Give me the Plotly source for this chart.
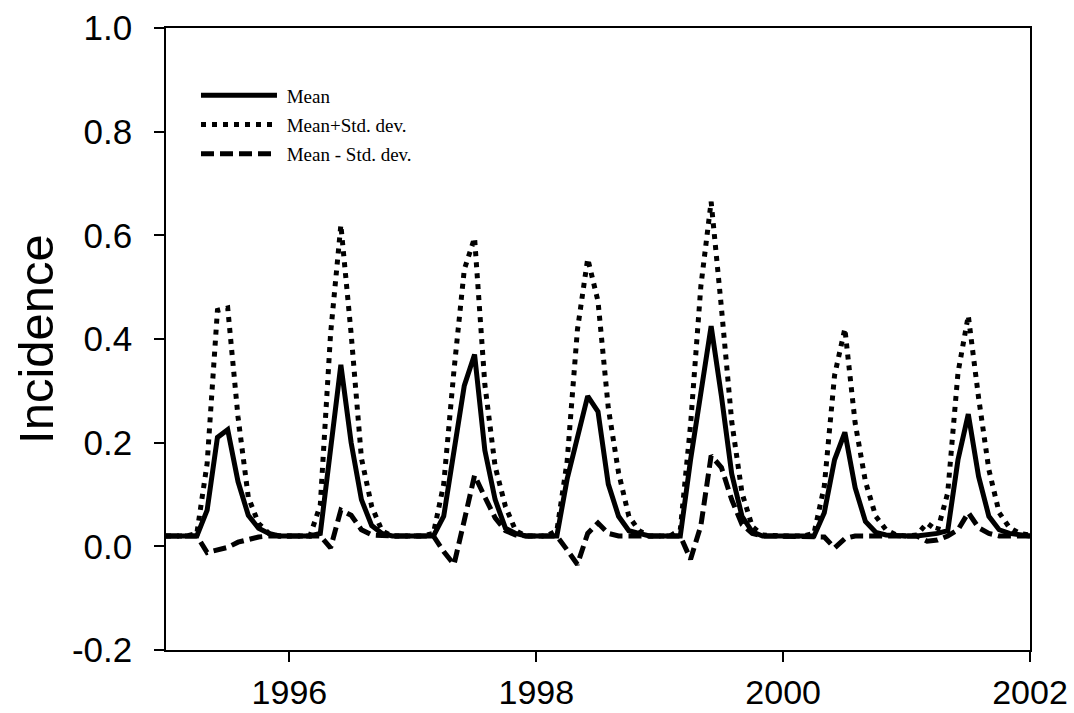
import plotly.graph_objects as go

# Monthly time axis (decimal years), Jan 1995 .. Jan 2002
months = [1995 + i / 12 for i in range(85)]

mean = [
    0.02, 0.02, 0.02, 0.02, 0.07, 0.21, 0.225, 0.125, 0.06, 0.035, 0.025, 0.02,   # 1995
    0.02, 0.02, 0.02, 0.025, 0.185, 0.35, 0.2, 0.09, 0.04, 0.025, 0.02, 0.02,     # 1996
    0.02, 0.02, 0.02, 0.058, 0.19, 0.31, 0.37, 0.185, 0.09, 0.035, 0.025, 0.02,   # 1997
    0.02, 0.02, 0.02, 0.13, 0.21, 0.29, 0.26, 0.12, 0.058, 0.03, 0.025, 0.02,     # 1998
    0.02, 0.02, 0.02, 0.167, 0.296, 0.425, 0.29, 0.14, 0.058, 0.028, 0.02, 0.02,  # 1999
    0.02, 0.02, 0.02, 0.02, 0.065, 0.167, 0.22, 0.113, 0.048, 0.027, 0.022, 0.02, # 2000
    0.02, 0.02, 0.022, 0.025, 0.03, 0.167, 0.255, 0.135, 0.058, 0.032, 0.025, 0.022, # 2001
    0.02,
]

mean_plus_sd = [
    0.02, 0.02, 0.02, 0.025, 0.16, 0.455, 0.46, 0.25, 0.095, 0.044, 0.025, 0.02,
    0.02, 0.02, 0.02, 0.08, 0.41, 0.62, 0.41, 0.17, 0.077, 0.03, 0.02, 0.02,
    0.02, 0.02, 0.025, 0.12, 0.34, 0.534, 0.595, 0.312, 0.154, 0.077, 0.03, 0.02,
    0.02, 0.02, 0.03, 0.164, 0.418, 0.555, 0.473, 0.267, 0.142, 0.058, 0.03, 0.02,
    0.02, 0.02, 0.032, 0.235, 0.502, 0.665, 0.46, 0.241, 0.103, 0.038, 0.022, 0.02,
    0.02, 0.02, 0.02, 0.025, 0.116, 0.33, 0.42, 0.238, 0.125, 0.058, 0.032, 0.022,
    0.02, 0.022, 0.045, 0.03, 0.103, 0.335, 0.445, 0.287, 0.148, 0.065, 0.036, 0.025,
    0.022,
]

mean_minus_sd = [
    0.02, 0.02, 0.02, 0.02, -0.012, -0.008, -0.002, 0.008, 0.013, 0.018, 0.02, 0.02,
    0.02, 0.02, 0.02, 0.02, -0.003, 0.07, 0.06, 0.032, 0.022, 0.02, 0.02, 0.02,
    0.02, 0.02, 0.02, -0.01, -0.035, 0.05, 0.137, 0.095, 0.055, 0.03, 0.022, 0.02,
    0.02, 0.02, 0.02, -0.007, -0.035, 0.025, 0.045, 0.025, 0.02, 0.02, 0.02, 0.02,
    0.02, 0.02, 0.02, -0.025, 0.04, 0.175, 0.152, 0.09, 0.042, 0.025, 0.02, 0.02,
    0.02, 0.02, 0.02, 0.02, 0.018, -0.003, 0.015, 0.02, 0.02, 0.02, 0.02, 0.02,
    0.02, 0.02, 0.01, 0.012, 0.02, 0.032, 0.065, 0.036, 0.025, 0.02, 0.02, 0.02,
    0.02,
]

series_names = ["Mean", "Mean+Std. dev.", "Mean - Std. dev."]

x_tickvals = [1996, 1998, 2000, 2002]
x_ticktext = ["1996", "1998", "2000", "2002"]
y_tickvals = [-0.2, 0.0, 0.2, 0.4, 0.6, 0.8, 1.0]
y_ticktext = ["-0.2", "0.0", "0.2", "0.4", "0.6", "0.8", "1.0"]

NB = "\u00a0"
fig = go.Figure()
fig.add_trace(go.Scatter(x=months, y=mean, mode="lines", name=NB + series_names[0],
                         legendgroup="g1",
                         line=dict(color="black", width=5)))
fig.add_trace(go.Scatter(x=months, y=mean_plus_sd, mode="lines", name=NB + series_names[1],
                         legendgroup="g2",
                         line=dict(color="black", width=5, dash="5px,6px")))
fig.add_trace(go.Scatter(x=months, y=mean_minus_sd, mode="lines", name=NB + series_names[2],
                         legendgroup="g3",
                         line=dict(color="black", width=5, dash="13px,6px")))

axis_common = dict(
    showline=True, linecolor="black", linewidth=1.5, mirror=True,
    ticks="outside", ticklen=10, tickwidth=1.5, tickcolor="black",
    showgrid=False, zeroline=False, automargin=False,
)
tick_font = dict(family="Liberation Sans, Arial, sans-serif", size=34, color="black")

fig.update_layout(
    width=1074, height=713,
    margin=dict(l=166, r=44, t=28, b=63, autoexpand=False),
    paper_bgcolor="white", plot_bgcolor="white",
    showlegend=True,
    legend=dict(
        x=0.0347, y=0.922, xanchor="left", yanchor="top",
        bgcolor="rgba(0,0,0,0)", borderwidth=0,
        font=dict(family="Liberation Serif, Times New Roman, serif", size=19, color="black"),
        itemwidth=76, tracegroupgap=1.5, traceorder="grouped",
    ),
    xaxis=dict(range=[1995, 2002], tickvals=x_tickvals, ticktext=x_ticktext,
               ticklabelstandoff=1, tickfont=tick_font, **axis_common),
    yaxis=dict(range=[-0.2, 1.0], tickvals=y_tickvals, ticktext=y_ticktext,
               ticklabelstandoff=15, tickfont=dict(tick_font, size=35),
               title=dict(text="Incidence", standoff=3,
                          font=dict(family="Liberation Sans, Arial, sans-serif", size=49, color="black")),
               **axis_common),
)

fig.write_html("out.html")
